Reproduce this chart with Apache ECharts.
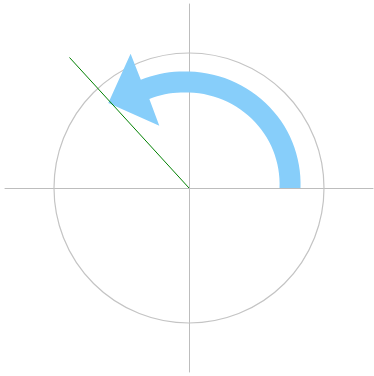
<!DOCTYPE html>
<html>
<head>
<meta charset="utf-8">
<script src="https://cdn.jsdelivr.net/npm/echarts@6/dist/echarts.min.js"></script>
<style>
  html, body { margin: 0; padding: 0; background: #fff; }
  #main { width: 374px; height: 376px; }
</style>
</head>
<body>
<div id="main"></div>
<script>
// axis extent and unit circle (same units on both axes)
var axisExtent = [-184, 184]
var circleRadius = [135]
// green ray from origin
var rayPoints = [[0, 0], [-119.5, 130.5]]
// arrow shaft: [angle deg, centre radius], and width
var shaftPath = [[0, 101], [30, 103], [60, 104.5], [90, 106], [114, 108]]
var shaftWidth = [21]
// arrow head corners as [angle deg, radius]
var headPoints = [[113.5, 146.5], [133.5, 117.2], [115.5, 69]]

var myChart = echarts.init(document.getElementById('main'))

function polar(api, a, r) {
  var rad = a * Math.PI / 180
  return api.coord([r * Math.cos(rad), r * Math.sin(rad)])
}

var axisCommon = {
  type: 'value',
  min: axisExtent[0],
  max: axisExtent[1],
  axisLine: { onZero: true, lineStyle: { color: '#bdbdbd', width: 1 } },
  axisTick: { show: false },
  axisLabel: { show: false },
  splitLine: { show: false },
}

myChart.setOption({
  animation: false,
  grid: { left: 5, right: 1, top: 4, bottom: 4 },
  xAxis: axisCommon,
  yAxis: axisCommon,
  series: [
    {
      type: 'custom',
      data: circleRadius,
      renderItem: function (params, api) {
        var c = api.coord([0, 0])
        var r = api.size([api.value(0), 0])[0]
        return {
          type: 'circle',
          shape: { cx: c[0], cy: c[1], r: r },
          style: { fill: 'none', stroke: '#c4c4c4', lineWidth: 1.2 },
        }
      },
    },
    {
      type: 'custom',
      data: shaftWidth,
      renderItem: function (params, api) {
        var w = api.value(0) / 2
        var outer = []
        var inner = []
        // interpolate between listed path points for a smooth band
        for (var i = 0; i < shaftPath.length - 1; i++) {
          var p0 = shaftPath[i], p1 = shaftPath[i + 1]
          for (var s = 0; s < 10; s++) {
            var t = s / 10
            var a = p0[0] + (p1[0] - p0[0]) * t
            var r = p0[1] + (p1[1] - p0[1]) * t
            outer.push(polar(api, a, r + w))
            inner.push(polar(api, a, r - w))
          }
        }
        var last = shaftPath[shaftPath.length - 1]
        outer.push(polar(api, last[0], last[1] + w))
        inner.push(polar(api, last[0], last[1] - w))
        var head = headPoints.map(function (p) { return polar(api, p[0], p[1]) })
        var pts = outer.concat(head).concat(inner.reverse())
        return {
          type: 'polygon',
          shape: { points: pts },
          style: { fill: '#87cefa', stroke: 'none' },
        }
      },
    },
    {
      type: 'line',
      data: rayPoints,
      symbol: 'none',
      lineStyle: { color: '#008000', width: 1 },
      z: 5,
    },
  ],
})
</script>
</body>
</html>
